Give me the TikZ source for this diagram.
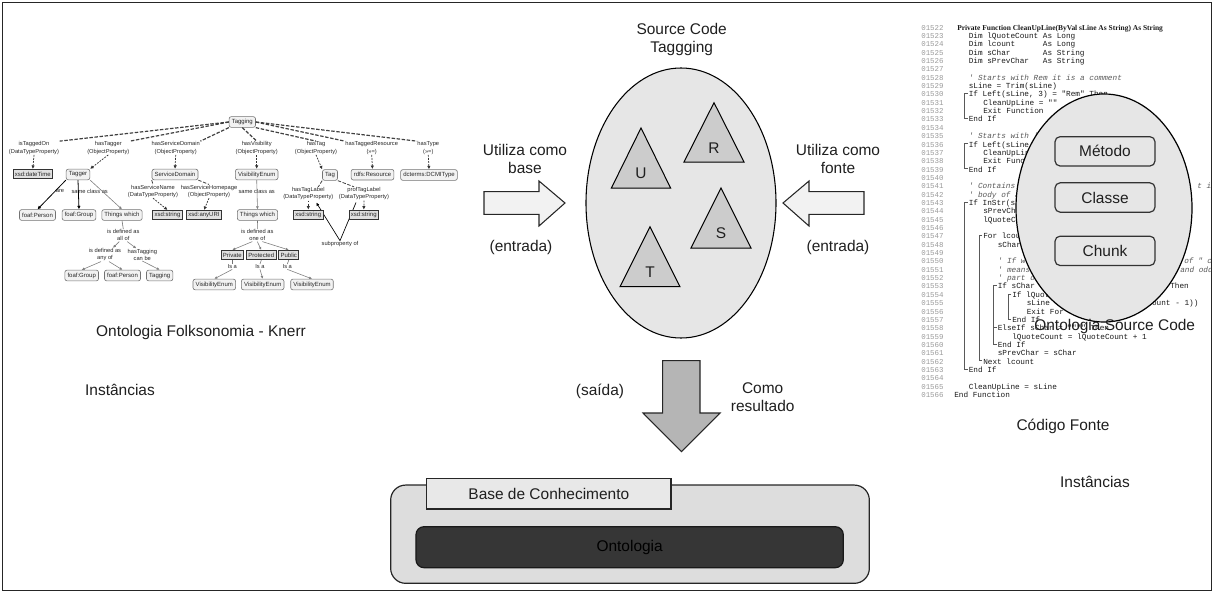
\documentclass[tikz,border=0pt]{standalone}
\usepackage{fontspec}
\setmainfont{Liberation Sans}
\setmonofont{Liberation Mono}
\newfontfamily\hdrfont{Liberation Serif}
\usetikzlibrary{arrows.meta,calc,shapes.geometric}

\definecolor{ellfill}{HTML}{E6E6E6}
\definecolor{trifill}{HTML}{CCCCCC}
\definecolor{arrfill}{HTML}{F2F2F2}
\definecolor{downfill}{HTML}{B5B5B5}
\definecolor{kbfill}{HTML}{DDDDDD}
\definecolor{tabfill}{HTML}{E8E8E8}
\definecolor{ontfill}{HTML}{363636}
\definecolor{numgray}{HTML}{9A9A9A}

% vertical position of a listing line (px, downwards)
\newcommand\lineY[1]{26.6+(#1-1522)*8.35}
% a piece of code / comment text: name, x, line number, text
\newcommand\codeln[4]{\node[codetxt] (#1) at (#2,{26.6+(#3-1522)*8.35}) {#4};}
\newcommand\cmtln[4]{\node[cmttxt] (#1) at (#2,{26.6+(#3-1522)*8.35}) {#4};}
% fold bracket of a block: bracket x, text x, first line, last line
\newcommand\foldmark[4]{\draw[foldline] ({#2-0.8},{26.6+(#3-1522)*8.35}) -- (#1,{26.6+(#3-1522)*8.35}) -- (#1,{26.6+(#4-1522)*8.35}) -- ({#2-0.8},{26.6+(#4-1522)*8.35});}

\begin{document}
\begin{tikzpicture}[x=0.75pt,y=-0.75pt,
  big/.style={font=\fontsize{11.6}{13.5}\selectfont, align=center, text=black!88, inner sep=0pt},
  gnode/.style={draw=black!55, fill=black!5, rounded corners=1.6pt, line width=0.45pt, inner xsep=2pt, inner ysep=0.8pt, minimum height=8pt, font=\fontsize{4.5}{5}\selectfont, text=black!85},
  lnode/.style={draw=black!80, fill=black!12, line width=0.6pt, inner xsep=1.4pt, inner ysep=0.6pt, minimum height=7pt, font=\fontsize{4.5}{5}\selectfont, text=black!85},
  plab/.style={font=\fontsize{4.3}{5.3}\selectfont, align=center, inner sep=0.3pt, text=black!85},
  dlink/.style={black!75, line width=0.9pt, dash pattern=on 2.6pt off 1.2pt},
  darr/.style={black!80, line width=0.55pt, dash pattern=on 1.4pt off 0.9pt, -{Latex[length=2.6pt,width=2.6pt]}},
  sarr/.style={black, line width=0.6pt, -{Latex[length=2.6pt,width=2.6pt]}},
  garr/.style={black!50, line width=0.45pt, -{Latex[length=2.2pt,width=2.2pt]}},
  gline/.style={black!55, line width=0.45pt},
  codetxt/.style={anchor=mid west, inner sep=0pt, font=\ttfamily\fontsize{5.8}{6}\selectfont, text=black!90},
  cmttxt/.style={codetxt, font=\ttfamily\itshape\fontsize{5.8}{6}\selectfont, text=black!65},
  numtxt/.style={anchor=mid west, inner sep=0pt, font=\ttfamily\fontsize{5.6}{6}\selectfont, text=numgray},
  foldline/.style={black!65, line width=0.4pt},
  kind/.style={draw=black!80, fill=ellfill, rounded corners=3.8pt, line width=0.9pt, minimum width=75pt, minimum height=22pt, font=\fontsize{11.6}{13.5}\selectfont, text=black!88},
  tri/.style={draw=black, line width=0.75pt, fill=trifill, line join=miter},
  blockarrow/.style={draw=black!85, line width=0.8pt, line join=miter},
]
\useasboundingbox (0,0) rectangle (1218,592);

% ---------------- Folksonomy ontology (Knerr) ----------------
\node[gnode] (tgg) at (242.3,122) {Tagging};

\node[plab] (pOn) at (34,148) {isTaggedOn\\(DataTypeProperty)};
\node[plab] (pTagger) at (108.3,148) {hasTagger\\(ObjectProperty)};
\node[plab] (pSD) at (175.7,148) {hasServiceDomain\\(ObjectProperty)};
\node[plab] (pVis) at (256.7,148) {hasVisibility\\(ObjectProperty)};
\node[plab] (pTag) at (316,148) {hasTag\\(ObjectProperty)};
\node[plab] (pRes) at (371.7,148) {hasTaggedResource\\(>>=)};
\node[plab] (pType) at (428.3,148) {hasType\\(>>=)};

\node[plab] (pAre) at (60,191) {are};
\node[plab] (pSame1) at (89.7,191) {same class as};
\node[plab] (pSName) at (153,191.3) {hasServiceName\\(DataTypeProperty)};
\node[plab] (pSHome) at (209,191.3) {hasServiceHomepage\\(ObjectProperty)};
\node[plab] (pSame2) at (256.7,191) {same class as};
\node[plab] (pTLab) at (308.3,193.7) {hasTagLabel\\(DataTypeProperty)};
\node[plab] (pPLab) at (364,193.7) {profTagLabel\\(DataTypeProperty)};
\node[plab] (pSub) at (340,244) {subproperty of};
\node[plab] (pAll) at (123.3,235.3) {is defined as\\all of};
\node[plab] (pAny) at (105,254.7) {is defined as\\any of};
\node[plab] (pCan) at (142.3,254.7) {hasTagging\\can be};
\node[plab] (pOne) at (257.3,235.3) {is defined as\\one of};
\node[plab] (isa1) at (232.3,266.7) {Is a};
\node[plab] (isa2) at (260,266.7) {Is a};
\node[plab] (isa3) at (287.3,266.7) {Is a};

% subproperty link passes behind the range boxes
\draw[black, line width=0.5pt, -{Latex[length=2.4pt,width=2.4pt]}] ($(pPLab.south)+(-8,2)$) -- (pSub.north) -- ($(pTLab.south)+(8,2)$);

\node[lnode] (dtime) at (32.8,174) {xsd:dateTime};
\node[gnode] (tagger) at (78,174.5) {Tagger};
\node[gnode] (sdom) at (175,174.5) {ServiceDomain};
\node[gnode] (venum) at (256.7,174.5) {VisibilityEnum};
\node[gnode] (tag) at (330,175) {Tag};
\node[gnode] (rres) at (372.5,174.7) {rdfs:Resource};
\node[gnode] (dcmi) at (429,175) {dcterms:DCMIType};

\node[gnode] (fperson) at (37.5,215) {foaf:Person};
\node[gnode] (fgroup) at (79,215) {foaf:Group};
\node[gnode] (things) at (122,215) {Things which};
\node[lnode] (sstr) at (167.5,215) {xsd:string};
\node[lnode] (suri) at (204,215) {xsd:anyURI};
\node[gnode] (things2) at (257.5,215) {Things which};
\node[lnode] (lstr) at (308.3,214.7) {xsd:string};
\node[lnode] (pstr) at (363.8,214.7) {xsd:string};

\node[gnode] (fgroup2) at (81.7,275.5) {foaf:Group};
\node[gnode] (fperson2) at (122.5,275.5) {foaf:Person};
\node[gnode] (tgg2) at (159.7,275.5) {Tagging};

\node[lnode] (priv) at (232.3,255) {Private};
\node[lnode] (prot) at (261.3,255) {Protected};
\node[lnode] (publ) at (288.8,255) {Public};

\node[gnode] (ve1) at (214.3,284.5) {VisibilityEnum};
\node[gnode] (ve2) at (262.7,284.5) {VisibilityEnum};
\node[gnode] (ve3) at (312,284.5) {VisibilityEnum};

% properties of Tagging
\draw[dlink] (tgg.west) -- (pOn.north east);
\draw[dlink] (tgg.west) -- (pTagger.north east);
\draw[dlink] (tgg.south west) -- (pSD.north east);
\draw[dlink] (tgg.south) -- (pVis.north);
\draw[dlink] (tgg.south east) -- (pTag.north);
\draw[dlink] (tgg.east) -- (pRes.north west);
\draw[dlink] (tgg.east) -- (pType.north west);

\draw[darr] (pOn.south) -- (dtime.north);
\draw[darr] (pTagger.south) -- (tagger.north east);
\draw[darr] (pSD.south) -- (sdom.north);
\draw[darr] (pVis.south) -- (venum.north);
\draw[darr] (pTag.south) -- (tag.north west);
\draw[darr] (pRes.south) -- (rres.north);
\draw[darr] (pType.south) -- (dcmi.north);

% properties of ServiceDomain and Tag
\draw[dlink, line width=0.6pt] (sdom.south west) -- (pSName.north);
\draw[dlink, line width=0.6pt] (sdom.south east) -- (pSHome.north);
\draw[darr] (pSName.south) -- (sstr.north);
\draw[darr] (pSHome.south) -- (suri.north);
\draw[dlink, line width=0.6pt] (tag.south west) -- ($(pTLab.north)+(10,0)$);
\draw[dlink, line width=0.6pt] (tag.south east) -- ($(pPLab.north)+(-10,0)$);
\draw[darr] (pTLab.south) -- (lstr.north);
\draw[darr] (pPLab.south) -- (pstr.north);

% Tagger branch
\draw[sarr] (tagger.south west) -- (fperson.north);
\draw[sarr] (tagger.south) -- (fgroup.north);
\draw[garr] (tagger.south east) -- (things.north);
\draw[gline] (things.south) -- (pAll.north);
\draw[garr] ($(pAll.south)+(-4,0)$) -- ($(pAny.north)+(8,0)$);
\draw[garr] ($(pAll.south)+(4,0)$) -- ($(pCan.north)+(-6,0)$);
\draw[garr] ($(pAny.south)+(-4,0)$) -- (fgroup2.north);
\draw[garr] ($(pAny.south)+(4,0)$) -- (fperson2.north);
\draw[garr] (pCan.south) -- (tgg2.north);

% VisibilityEnum branch
\draw[garr] (venum.south) -- (things2.north);
\draw[gline] (things2.south) -- (pOne.north);
\draw[garr] ($(pOne.south)+(-5,0)$) -- (priv.north);
\draw[garr] (pOne.south) -- (prot.north);
\draw[garr] ($(pOne.south)+(5,0)$) -- (publ.north);
\draw[gline] (priv.south) -- (isa1.north);
\draw[gline] (prot.south) -- (isa2.north);
\draw[gline] (publ.south) -- (isa3.north);
\draw[garr] (isa1.south) -- (ve1.north);
\draw[garr] (isa2.south) -- (ve2.north);
\draw[garr] (isa3.south) -- (ve3.north);

\node[big] (capFolk) at (201,332) {Ontologia Folksonomia - Knerr};
\node[big] (instL) at (120,390) {Instâncias};

% ---------------- Source Code Tagging ----------------
\node[big] (title) at (681.7,40) {Source Code\\Taggging};
\node[ellipse, draw=black, line width=0.8pt, fill=ellfill, minimum width=142.5pt, minimum height=202.5pt, inner sep=0pt] (sct) at (681,203) {};

\draw[tri] (641,128) -- ++(-29.6,60) -- ++(59.2,0) -- cycle;
\node[big] (tU) at (641,173) {U};
\draw[tri] (714,102.7) -- ++(-30,59.3) -- ++(60,0) -- cycle;
\node[big] (tR) at (714,147.7) {R};
\draw[tri] (721,188) -- ++(-30,60) -- ++(60,0) -- cycle;
\node[big] (tS) at (721,232.7) {S};
\draw[tri] (650,226.7) -- ++(-30,60) -- ++(60,0) -- cycle;
\node[big] (tT) at (650,271.7) {T};

% input from the folksonomy
\draw[blockarrow, fill=arrfill] (484,191.7) -- (539,191.7) -- (539,181) -- (565,203) -- (539,226) -- (539,214.3) -- (484,214.3) -- cycle;
\node[big] (useL) at (525,158.8) {Utiliza como\\base};
\node[big] (inL) at (521,247.7) {(entrada)};

% input from the source code
\draw[blockarrow, fill=arrfill] (864,191.7) -- (809,191.7) -- (809,181) -- (783,203) -- (809,226) -- (809,214.3) -- (864,214.3) -- cycle;
\node[big] (useR) at (838,158.8) {Utiliza como\\fonte};
\node[big] (inR) at (838,247.7) {(entrada)};

% output
\draw[blockarrow, fill=downfill] (662.7,360.7) -- (700,360.7) -- (700,413) -- (720,413) -- (681.5,451.7) -- (643,413) -- (662.7,413) -- cycle;
\node[big] (outL) at (600,391.7) {(saída)};
\node[big] (outR) at (762.7,397) {Como\\resultado};

% knowledge base
\node[draw=black!85, line width=0.9pt, fill=kbfill, rounded corners=11.25pt, minimum width=359pt, minimum height=73.7pt, inner sep=0pt] (kb) at (630,534.2) {};
\node[draw=black!85, line width=0.9pt, fill=tabfill, minimum width=183.2pt, minimum height=23pt, inner sep=0pt, font=\fontsize{11.6}{13.5}\selectfont, text=black!88] (kbtab) at (548.85,493.65) {Base de Conhecimento};
\node[draw=black!90, line width=0.9pt, fill=ontfill, rounded corners=6pt, minimum width=320.5pt, minimum height=30.75pt, inner sep=0pt, font=\fontsize{11.6}{13.5}\selectfont, text=black] (onto) at (629.65,547.2) {Ontologia};

% ---------------- Source code listing ----------------
\begin{scope}
\clip (900,0) rectangle (1211,592);
\foreach \i in {1522,...,1566} {
  \node[numtxt] (n\i) at (921,{26.6+(\i-1522)*8.35}) {0\i};
}
\node[codetxt, font=\hdrfont\bfseries\fontsize{5.6}{6}\selectfont] (c1522) at (957,{\lineY{1522}}) {Private Function CleanUpLine(ByVal sLine As String) As String};
\codeln{c1523}{968.5}{1523}{Dim lQuoteCount}
\codeln{c1523t}{1042.6}{1523}{As Long}
\codeln{c1524}{968.5}{1524}{Dim lcount}
\codeln{c1524t}{1042.6}{1524}{As Long}
\codeln{c1525}{968.5}{1525}{Dim sChar}
\codeln{c1525t}{1042.6}{1525}{As String}
\codeln{c1526}{968.5}{1526}{Dim sPrevChar}
\codeln{c1526t}{1042.6}{1526}{As String}
\cmtln{c1528}{968.5}{1528}{' Starts with Rem it is a comment}
\codeln{c1529}{968.5}{1529}{sLine = Trim(sLine)}
\codeln{c1530}{968.5}{1530}{If Left(sLine, 3) = "Rem" Then}
\codeln{c1531}{983}{1531}{CleanUpLine = ""}
\codeln{c1532}{983}{1532}{Exit Function}
\codeln{c1533}{968.5}{1533}{End If}
\cmtln{c1535}{968.5}{1535}{' Starts with ' it is a comment}
\codeln{c1536}{968.5}{1536}{If Left(sLine, 1) = "'" Then}
\codeln{c1537}{983}{1537}{CleanUpLine = ""}
\codeln{c1538}{983}{1538}{Exit Function}
\codeln{c1539}{968.5}{1539}{End If}
\cmtln{c1541}{968.5}{1541}{' Contains ' so it may be a comment}
\cmtln{c1541r}{1197}{1541}{t is a}
\cmtln{c1542}{968.5}{1542}{' body of a string}
\codeln{c1543}{968.5}{1543}{If InStr(sLine, "'") > 0 Then}
\codeln{c1544}{983}{1544}{sPrevChar = " "}
\codeln{c1545}{983}{1545}{lQuoteCount = 0}
\codeln{c1547}{983}{1547}{For lcount = 1 To Len(sLine)}
\codeln{c1548}{997.5}{1548}{sChar = Mid(sLine, lcount, 1)}
\cmtln{c1550}{997.5}{1550}{' If we find a ' and an even number}
\cmtln{c1550r}{1184}{1550}{of " ch}
\cmtln{c1551}{997.5}{1551}{' means it is a comment}
\cmtln{c1551r}{1180}{1551}{and odd}
\cmtln{c1552}{997.5}{1552}{' part of a string}
\codeln{c1553}{997.5}{1553}{If sChar = "'" And sPrevChar = " "}
\codeln{c1553r}{1170}{1553}{Then}
\codeln{c1554}{1012}{1554}{If lQuoteCount Mod 2 = 0 Then}
\codeln{c1555}{1026.5}{1555}{sLine = Trim(Left(sLine, lcount - 1))}
\codeln{c1556}{1026.5}{1556}{Exit For}
\codeln{c1557}{1012}{1557}{End If}
\codeln{c1558}{997.5}{1558}{ElseIf sChar = """" Then}
\codeln{c1559}{1012}{1559}{lQuoteCount = lQuoteCount + 1}
\codeln{c1560}{997.5}{1560}{End If}
\codeln{c1561}{997.5}{1561}{sPrevChar = sChar}
\codeln{c1562}{983}{1562}{Next lcount}
\codeln{c1563}{968.5}{1563}{End If}
\codeln{c1565}{968.5}{1565}{CleanUpLine = sLine}
\codeln{c1566}{954}{1566}{End Function}
% fold brackets of the blocks
\foldmark{964}{968.5}{1530}{1533}
\foldmark{964}{968.5}{1536}{1539}
\foldmark{964}{968.5}{1543}{1563}
\foldmark{979}{983}{1547}{1562}
\foldmark{993}{997.5}{1553}{1560}
\draw[foldline] (993,{\lineY{1558}}) -- (996.7,{\lineY{1558}});
\foldmark{1008}{1012}{1554}{1557}
\end{scope}

% source code ontology drawn over the listing
\node[ellipse, draw=black, line width=0.9pt, fill=ellfill, minimum width=132pt, minimum height=171pt, inner sep=0pt] (osc) at (1104,208) {};
\node[kind] (met) at (1105,151.35) {Método};
\node[kind] (cls) at (1105,197.5) {Classe};
\node[kind] (chk) at (1105,250.85) {Chunk};
\node[big] (capOsc) at (1114.7,326) {Ontologia Source Code};
\node[big] (capCode) at (1063,426) {Código Fonte};
\node[big] (instR) at (1095,481.7) {Instâncias};

% outer frame
\draw[black!85, line width=0.8pt] (2.5,2.5) rectangle (1211.5,590.5);
\end{tikzpicture}
\end{document}
